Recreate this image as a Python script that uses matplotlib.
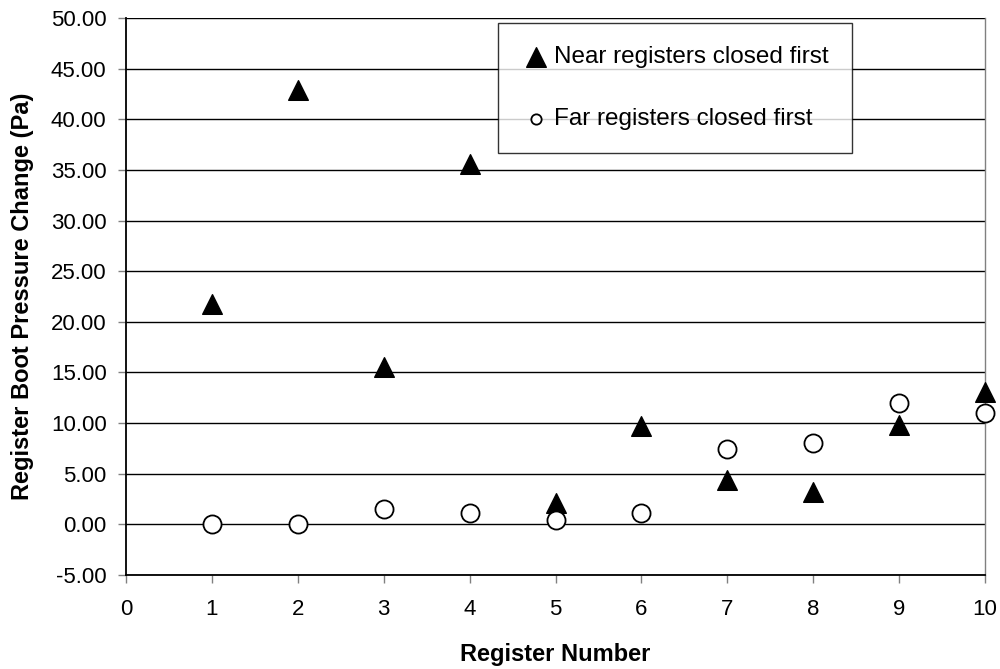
import matplotlib
matplotlib.use("Agg")
import matplotlib.pyplot as plt

plt.rcParams['font.family'] = ['Liberation Sans', 'DejaVu Sans']

registers = [1, 2, 3, 4, 5, 6, 7, 8, 9, 10]
near_first = [21.8, 42.9, 15.5, 35.6, 2.1, 9.7, 4.4, 3.2, 9.8, 13.1]
far_first = [0.0, 0.0, 1.5, 1.1, 0.4, 1.1, 7.4, 8.0, 12.0, 11.0]
near_label = "Near registers closed first"
far_label = "Far registers closed first"

fig = plt.figure(figsize=(10, 6.69), dpi=100)
ax = fig.add_axes([0.126, 0.1405, 0.859, 0.8325])

ax.set_xlim(0, 10)
ax.set_ylim(-5, 50)
yt = [-5 + 5 * i for i in range(12)]
ax.set_yticks(yt)
ax.set_yticklabels([f"{v:.2f}" for v in yt])
ax.set_xticks(range(0, 11))
ax.grid(axis='y', color='black', linewidth=1.0)
ax.set_axisbelow(True)

ax.scatter(registers, near_first, marker='^', s=200, color='black', zorder=3,
           label=near_label, clip_on=False)
ax.scatter(registers, far_first, marker='o', s=170, facecolor='white', edgecolor='black',
           linewidth=1.3, zorder=3, label=far_label, clip_on=False)

for s in ['left', 'bottom']:
    ax.spines[s].set_color('black')
    ax.spines[s].set_linewidth(1.3)
ax.spines['top'].set_visible(False)
ax.spines['right'].set_color('#808080')
ax.spines['right'].set_linewidth(1.0)

ax.tick_params(axis='both', labelsize=16, direction='out', length=6, width=1, color='#808080')
ax.tick_params(axis='x', pad=11)
ax.tick_params(axis='y', pad=8)

ax.set_xlabel("Register Number", fontsize=17, fontweight='bold')
ax.set_ylabel("Register Boot Pressure Change (Pa)", fontsize=17, fontweight='bold')
ax.xaxis.set_label_coords(0.5, -0.1436)
ax.xaxis.label.set_va('center')
ax.yaxis.set_label_coords(-0.121, 0.5)
ax.yaxis.label.set_va('center')
ax.yaxis.label.set_ha('center')

leg = ax.legend(loc='upper left', bbox_to_anchor=(0.433, 0.991), frameon=True, fancybox=False,
                edgecolor='black', fontsize=17.5, handletextpad=0.15, borderpad=0.95,
                labelspacing=1.65, handlelength=1.2, borderaxespad=0)
leg.get_frame().set_linewidth(1.0)
leg.legend_handles[0].set_sizes([200])
leg.legend_handles[1].set_sizes([55])

fig.savefig("out.png", dpi=100)
